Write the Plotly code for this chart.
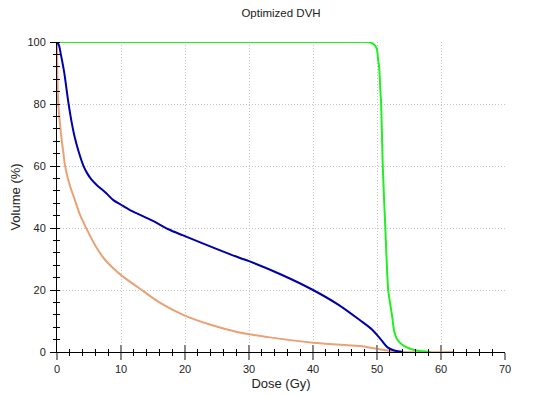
import plotly.graph_objects as go

# PTV (green)
green_dose = [0, 10, 20, 30, 40, 47.5, 48.8, 49.6, 50.0, 50.15, 50.35, 50.5, 50.65, 50.9, 51.3, 51.75, 52.1, 52.4,
              52.7, 53.1, 53.5, 54.2, 55.0, 56.4, 58.4]
green_vol = [100, 100, 100, 100, 100, 100, 99.9, 99.1, 97.5, 94.8, 91.6, 85.2, 80, 60, 40, 20, 15, 11,
             6.5, 4.3, 3.2, 2.0, 1.2, 0.4, 0]

# OAR (dark blue)
blue_dose = [0, 0.3, 0.6, 1.1, 1.8, 2.3, 2.8, 3.4, 4.1, 4.7, 5.4, 6.2, 7.7, 8.8, 10.0, 11.4, 12.5, 15.0, 17.4,
             19.7, 25.0, 28.5, 30.0, 35.0, 40.0, 44.0, 47.3, 49.3, 50.65, 51.7, 52.7, 54.0]
blue_vol = [100, 99, 96, 90.5, 80.2, 74, 69, 64.5, 60.2, 57.7, 55.6, 53.9, 51.2, 49, 47.5, 45.8, 44.7, 42.3, 39.6,
            37.6, 33.2, 30.4, 29.3, 25, 20, 15.2, 10.3, 7.1, 3.9, 1.4, 0.5, 0]

# OAR (orange)
orange_dose = [0, 0.02, 0.05, 0.1, 0.2, 0.45, 0.7, 0.95, 1.25, 1.7, 2.2, 2.8, 3.6, 4.6, 6.0, 7.4, 8.8, 10.0,
               12.9, 16.0, 19.7, 24.0, 28.5, 33.0, 40.0, 47.3, 50.4, 52.4, 54.0, 62.0]
orange_vol = [100, 95, 90, 85, 80, 74, 69, 65, 60.2, 56, 52.5, 49, 44.2, 39.8, 34.3, 30, 27, 24.8,
              20.5, 16, 12, 8.8, 6.3, 4.8, 3.0, 1.9, 0.9, 0.3, 0, 0]

x_ticks = [0, 10, 20, 30, 40, 50, 60, 70]
y_ticks = [0, 20, 40, 60, 80, 100]

fig = go.Figure()
fig.add_trace(go.Scatter(x=orange_dose, y=orange_vol, mode="lines", cliponaxis=False,
                         line=dict(color="#E8A276", width=2, shape="spline", smoothing=0.9), showlegend=False))
fig.add_trace(go.Scatter(x=blue_dose, y=blue_vol, mode="lines", cliponaxis=False,
                         line=dict(color="#0000A8", width=2, shape="spline", smoothing=0.9), showlegend=False))
fig.add_trace(go.Scatter(x=green_dose, y=green_vol, mode="lines", cliponaxis=False,
                         line=dict(color="#22EE22", width=2, shape="spline", smoothing=0.7), showlegend=False))
fig.add_trace(go.Scatter(x=[None], y=[None], xaxis="x2", yaxis="y2", showlegend=False, hoverinfo="skip"))

font = dict(family="Liberation Sans, Arial, sans-serif", size=11, color="#222222")

# page body has an 8px margin, so the figure is sized to fit the 546x396 window
W, H = 538, 388

fig.update_layout(
    width=W, height=H,
    margin=dict(l=49, r=41, t=34, b=44, autoexpand=False),
    paper_bgcolor="white", plot_bgcolor="white",
    font=font,
    title=dict(text="Optimized DVH", x=0.5, xanchor="center", xref="paper", yref="container",
               y=1 - 5 / H, yanchor="middle", font=dict(size=11.5, color="#222222")),
    xaxis=dict(range=[0, 70], tickvals=x_ticks, showgrid=True, gridcolor="#c4c4c4", griddash="1px,2px", gridwidth=1,
               zeroline=False, showline=True, linecolor="black", linewidth=1, automargin=False,
               ticks="outside", ticklen=7, tickwidth=2, tickcolor="#888888",
               minor=dict(dtick=2, ticks="outside", ticklen=3, tickcolor="black", tickwidth=1, showgrid=False),
               title=dict(text="Dose (Gy)", standoff=4), fixedrange=True),
    yaxis=dict(range=[0, 100], tickvals=y_ticks, showgrid=True, gridcolor="#c4c4c4", griddash="1px,2px", gridwidth=1,
               zeroline=False, showline=True, linecolor="black", linewidth=1, automargin=False,
               ticks="outside", ticklen=6, tickwidth=1, tickcolor="black", ticklabelstandoff=2,
               minor=dict(dtick=4, ticks="outside", ticklen=3, tickcolor="black", tickwidth=1, showgrid=False),
               title=dict(text="Volume (%)", standoff=4), fixedrange=True),
    xaxis2=dict(range=[0, 70], overlaying="x", anchor="y", side="bottom", tickvals=x_ticks, showticklabels=False,
                showgrid=False, zeroline=False, showline=False, automargin=False,
                ticks="inside", ticklen=7, tickwidth=2, tickcolor="#888888",
                minor=dict(dtick=2, ticks="inside", ticklen=3, tickcolor="black", tickwidth=1, showgrid=False)),
    yaxis2=dict(range=[0, 100], overlaying="y", anchor="x", side="left", tickvals=y_ticks, showticklabels=False,
                showgrid=False, zeroline=False, showline=False, ticks="", automargin=False,
                minor=dict(dtick=4, ticks="inside", ticklen=3, tickcolor="black", tickwidth=1, showgrid=False)),
)

fig.write_html("out.html")
